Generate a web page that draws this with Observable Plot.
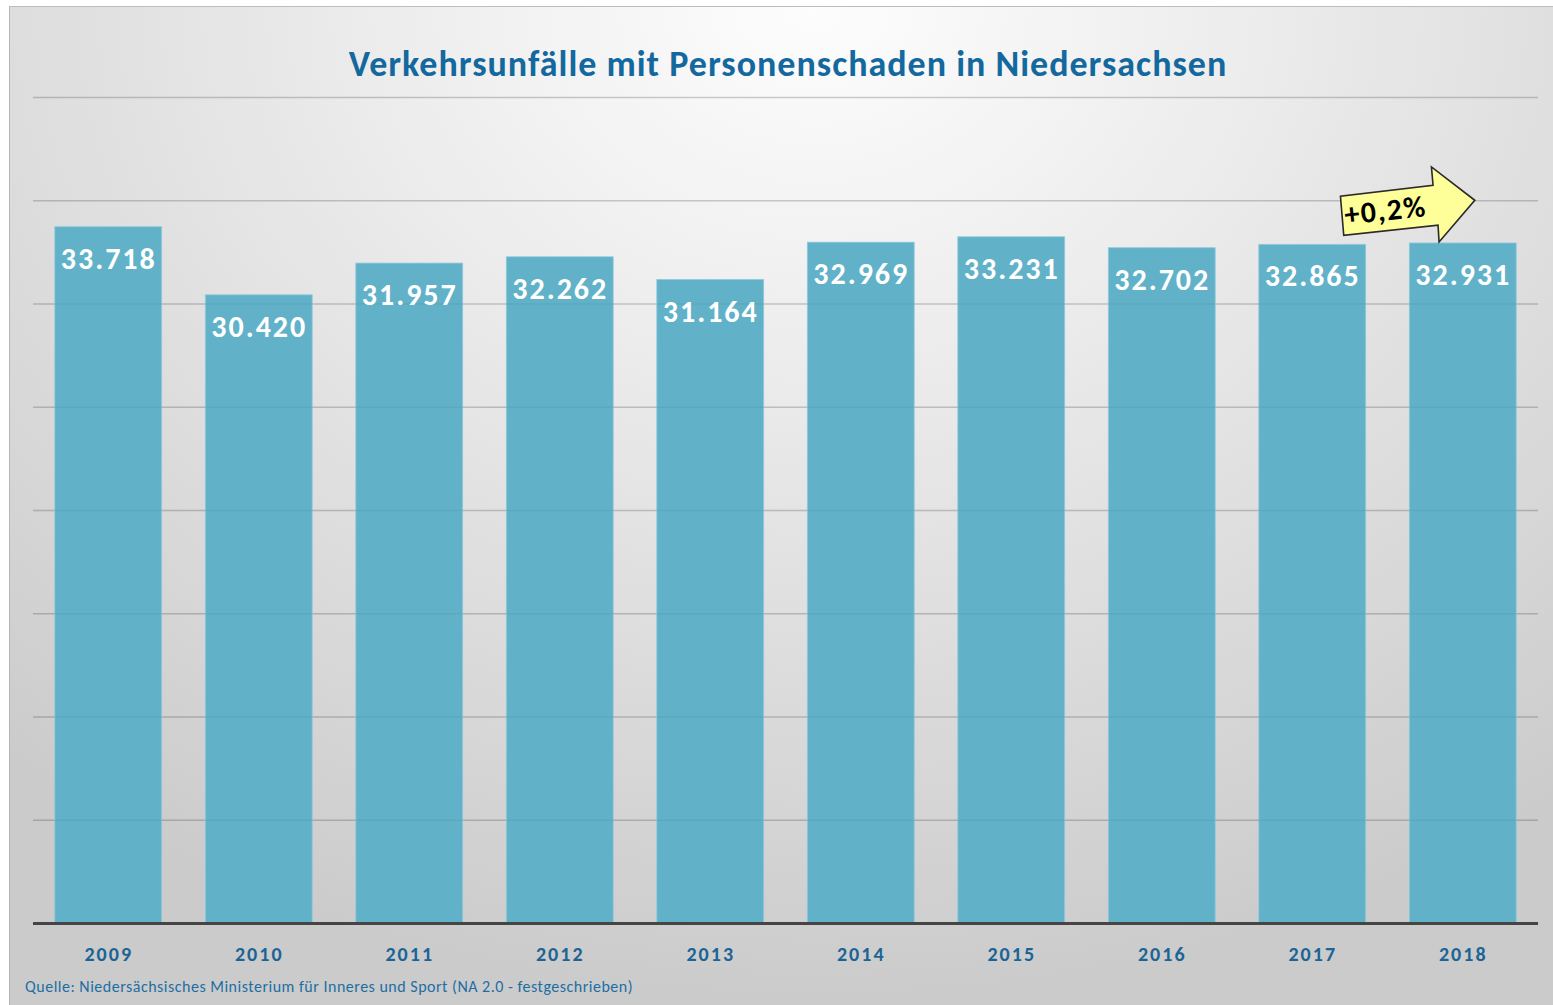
<!DOCTYPE html>
<html>
<head>
<meta charset="utf-8">
<script src="https://cdn.jsdelivr.net/npm/d3@7"></script>
<script src="https://cdn.jsdelivr.net/npm/@observablehq/plot@0.6"></script>
<style>
  html, body { margin: 0; padding: 0; background: #ffffff; }
  #wrap { position: relative; width: 1553px; height: 1005px; overflow: hidden; font-family: Carlito, Lato, "Open Sans", sans-serif; }
  #panel { position: absolute; left: 9px; top: 6px; width: 1544px; height: 999px; box-sizing: border-box;
    border-left: 1px solid #b5b5b5; border-top: 1px solid #bdbdbd;
    background: radial-gradient(ellipse 80% 100% at 52% 0%, #fdfdfd 0%, #efefef 30%, #dddddd 65%, #cbcbcb 100%); }
  #title { position: absolute; left: 0; width: 1576px; top: 42px; text-align: center; font-weight: 700; font-size: 36px; letter-spacing: 1px; color: #13689e; white-space: nowrap; }
  #source { position: absolute; left: 25px; top: 977px; font-size: 16px; letter-spacing: 0.5px; color: #1d6ea3; white-space: nowrap; }
  #chart { position: absolute; left: 0; top: 0; }
  .vals text { letter-spacing: 2px; }
  .yrs text { letter-spacing: 2px; }
</style>
</head>
<body>
<div id="wrap">
  <div id="panel"></div>
  <div id="title">Verkehrsunfälle mit Personenschaden in Niedersachsen</div>
  <div id="chart"></div>
  <div id="source">Quelle: Niedersächsisches Ministerium für Inneres und Sport (NA 2.0 - festgeschrieben)</div>
</div>
<script>
const years = ["2009", "2010", "2011", "2012", "2013", "2014", "2015", "2016", "2017", "2018"];
const values = [33718, 30420, 31957, 32262, 31164, 32969, 33231, 32702, 32865, 32931];
const labels = ["33.718", "30.420", "31.957", "32.262", "31.164", "32.969", "33.231", "32.702", "32.865", "32.931"];
const gridTicks = [5000, 10000, 15000, 20000, 25000, 30000, 35000, 40000];
const changeLabel = "+0,2%";

const data = years.map((y, i) => ({year: y, value: values[i], label: labels[i]}));
const font = "Carlito, Lato, 'Open Sans', sans-serif";

const plot = Plot.plot({
  width: 1553,
  height: 1005,
  marginLeft: 33,
  marginRight: 15,
  marginTop: 97,
  marginBottom: 82,
  style: {background: "transparent", fontFamily: font, overflow: "visible"},
  x: {domain: years, paddingInner: 0.29, paddingOuter: 0.145, round: false, label: null},
  y: {domain: [0, 40000], axis: null, label: null},
  marks: [
    Plot.ruleY(gridTicks, {stroke: "#000", strokeOpacity: 0.14, strokeWidth: 1.6}),
    Plot.barY(data, {x: "year", y: "value", fill: "#61b2c9", stroke: "#8fcadb", strokeWidth: 0.8}),
    Plot.ruleY(gridTicks, {stroke: "#000", strokeOpacity: 0.05, strokeWidth: 1.6}),
    Plot.ruleY([0], {stroke: "#454545", strokeWidth: 3}),
    Plot.text(data, {x: "year", y: "value", text: "label", dy: 32, fill: "white", fontSize: 30, fontWeight: 700, lineAnchor: "middle", className: "vals"}),
    Plot.axisX({tickSize: 0, tickPadding: 23, fontSize: 20, fontWeight: 700, fill: "#1b6496", label: null, className: "yrs"})
  ]
});
document.getElementById("chart").appendChild(plot);

// Annotation arrow anchored to the 2018 bar and the 35.000 level
const xs = plot.scale("x"), ys = plot.scale("y");
const tipX = xs.apply("2018") + xs.bandwidth / 2 + 12;
const tipY = ys.apply(35000);
const svg = d3.select(plot);
const g = svg.append("g").attr("transform", `translate(${tipX},${tipY})`);
g.append("path")
  .attr("d", "M0,0 L-43.3,-33.3 L-41.7,-15 L-134.3,-4 L-131,35 L-36.7,25 L-35.7,41.7 Z")
  .attr("fill", "#ffff99")
  .attr("stroke", "#2a2a2a")
  .attr("stroke-width", 1.6)
  .attr("stroke-linejoin", "miter");
g.append("text")
  .attr("transform", "translate(-89,13) rotate(-6)")
  .attr("text-anchor", "middle")
  .attr("dominant-baseline", "middle")
  .attr("font-family", font)
  .attr("font-size", 30)
  .attr("font-weight", 700)
  .attr("letter-spacing", "1.5px")
  .attr("fill", "#000")
  .text(changeLabel);
</script>
</body>
</html>
